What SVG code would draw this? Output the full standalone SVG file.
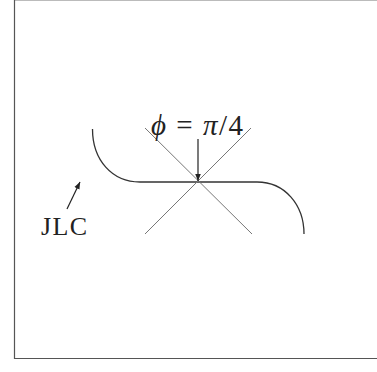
<svg xmlns="http://www.w3.org/2000/svg" width="377" height="372" viewBox="0 0 377 372">
<style>
.frame{fill:none;stroke:#555;stroke-width:1.2}
.curve{fill:none;stroke:#333;stroke-width:1.3}
.cross{fill:none;stroke:#777;stroke-width:1}
.arr{fill:none;stroke:#222;stroke-width:1.2}
.lbl{font-family:"Liberation Serif",serif;fill:#222}
</style>
<defs>
<marker id="ah" viewBox="0 0 10 10" refX="10" refY="5" markerWidth="7" markerHeight="7" markerUnits="userSpaceOnUse" orient="auto">
<path d="M0,1 L10,5 L0,9 Z" fill="#222"/>
</marker>
</defs>
<rect width="377" height="372" fill="#fff"/>
<g id="frame">
<path class="frame" d="M14.5,0.5 L377,0.5" stroke-opacity="0.4"/>
<path class="frame" d="M14.5,0 L14.5,358.5 L377,358.5"/>
</g>
<g id="jlc-curve">
<path class="curve" d="M92.5,129 C92.5,160 112,182 140,182 L257,182 C285,182 304,205 304,234"/>
</g>
<g id="cross-lines">
<line class="cross" x1="145" y1="128" x2="252" y2="234"/>
<line class="cross" x1="251" y1="128" x2="145" y2="234"/>
</g>
<g id="connectors">
<line class="arr" x1="198" y1="139" x2="198" y2="181" marker-end="url(#ah)"/>
<line class="arr" x1="67" y1="209" x2="80" y2="182" marker-end="url(#ah)"/>
</g>
<g id="label-phi">
<text class="lbl" x="151" y="135" font-size="29" textLength="92" lengthAdjust="spacing"><tspan font-style="italic">ϕ</tspan> = <tspan font-style="italic">π</tspan>/4</text>
</g>
<g id="label-jlc">
<text class="lbl" x="41" y="235" font-size="26" textLength="46" lengthAdjust="spacing">JLC</text>
</g>
</svg>
